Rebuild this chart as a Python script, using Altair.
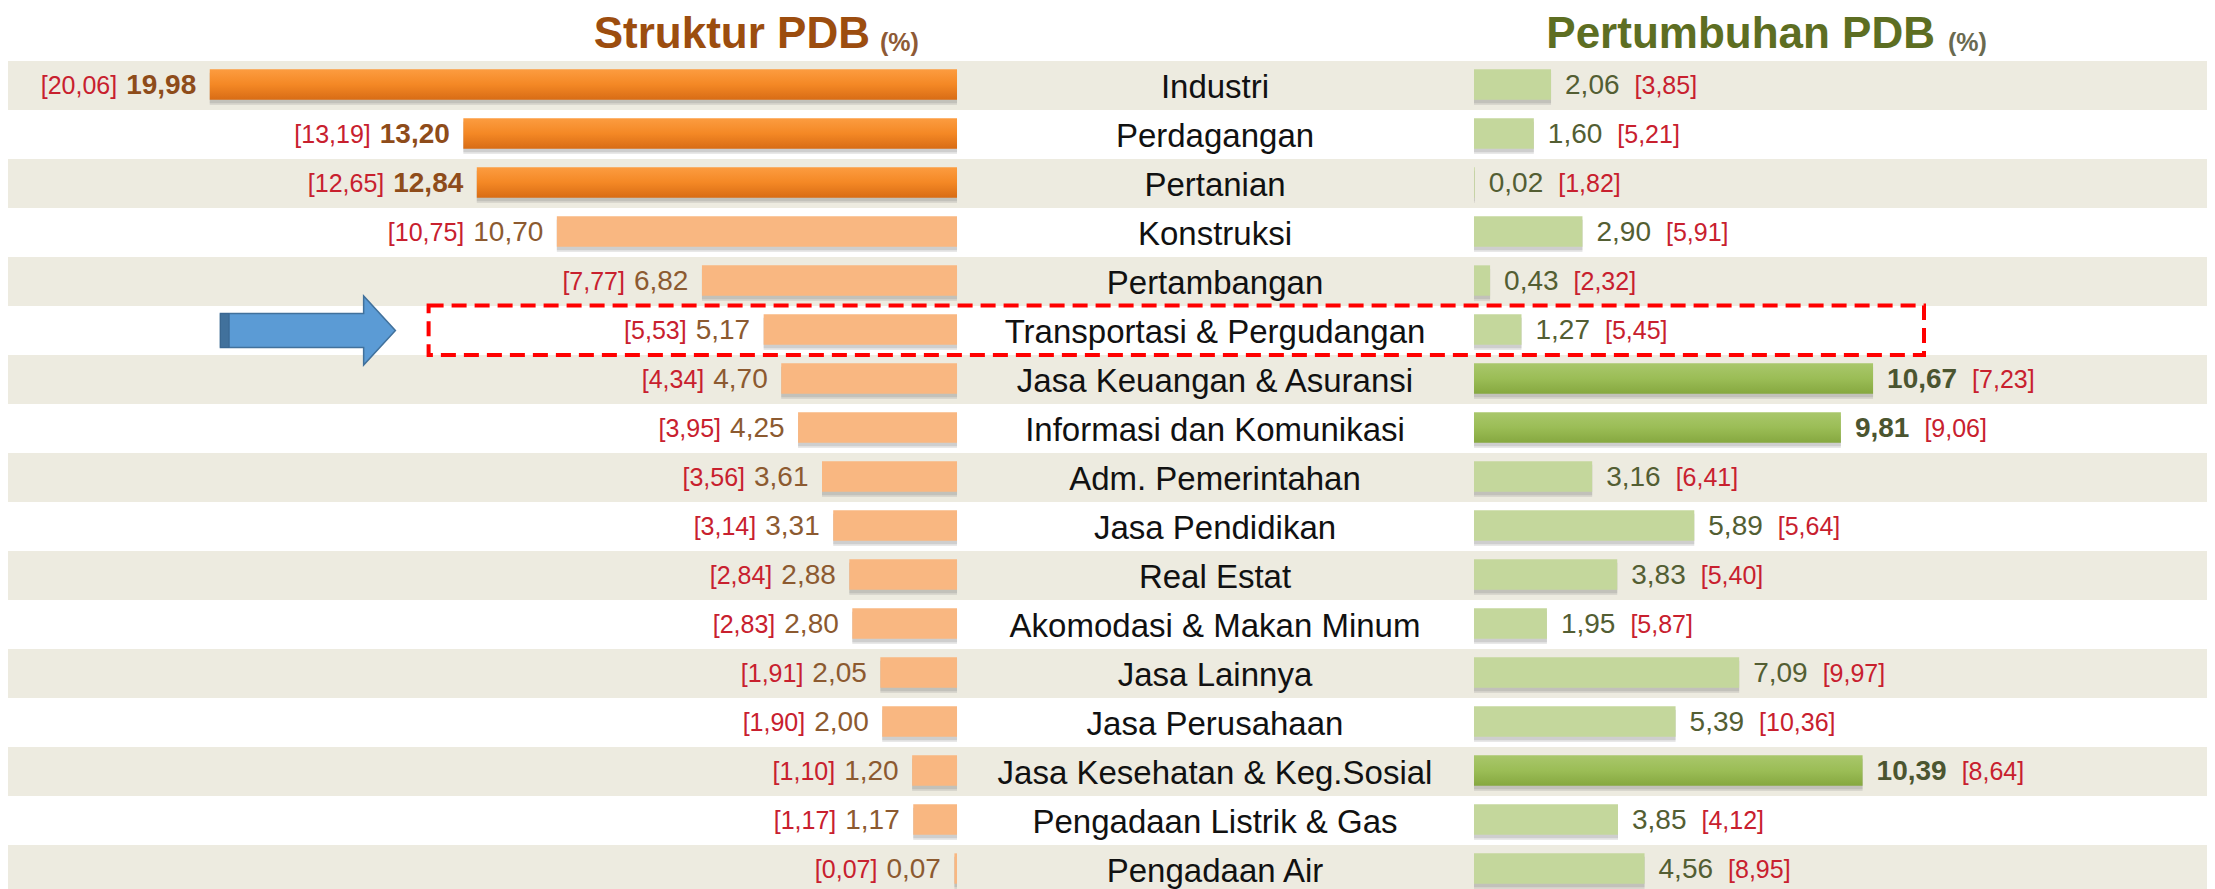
import altair as alt
import pandas as pd

# ---------------- data ----------------
sectors = [
    "Industri", "Perdagangan", "Pertanian", "Konstruksi", "Pertambangan",
    "Transportasi & Pergudangan", "Jasa Keuangan & Asuransi",
    "Informasi dan Komunikasi", "Adm. Pemerintahan", "Jasa Pendidikan",
    "Real Estat", "Akomodasi & Makan Minum", "Jasa Lainnya",
    "Jasa Perusahaan", "Jasa Kesehatan & Keg.Sosial",
    "Pengadaan Listrik & Gas", "Pengadaan Air",
]
struktur = [19.98, 13.20, 12.84, 10.70, 6.82, 5.17, 4.70, 4.25, 3.61, 3.31,
            2.88, 2.80, 2.05, 2.00, 1.20, 1.17, 0.07]
struktur_prev = [20.06, 13.19, 12.65, 10.75, 7.77, 5.53, 4.34, 3.95, 3.56, 3.14,
                 2.84, 2.83, 1.91, 1.90, 1.10, 1.17, 0.07]
growth = [2.06, 1.60, 0.02, 2.90, 0.43, 1.27, 10.67, 9.81, 3.16, 5.89,
          3.83, 1.95, 7.09, 5.39, 10.39, 3.85, 4.56]
growth_prev = [3.85, 5.21, 1.82, 5.91, 2.32, 5.45, 7.23, 9.06, 6.41, 5.64,
               5.40, 5.87, 9.97, 10.36, 8.64, 4.12, 8.95]

title_left = "Struktur PDB"
title_right = "Pertumbuhan PDB"
title_unit = "(%)"
highlight_sector = "Transportasi & Pergudangan"

# ---------------- table ----------------
def fmt(v):
    return f"{v:.2f}".replace(".", ",")

df = pd.DataFrame({
    "sector": sectors,
    "row": list(range(len(sectors))),
    "s": struktur, "sp": struktur_prev,
    "g": growth, "gp": growth_prev,
})
df["s_lbl"] = df["s"].map(fmt)
df["sp_lbl"] = "[" + df["sp"].map(fmt) + "]"
df["g_lbl"] = df["g"].map(fmt)
df["gp_lbl"] = "[" + df["gp"].map(fmt) + "]"
df["s_hi"] = (df["s"] >= sorted(struktur)[-3]).astype(int)
df["g_hi"] = (df["g"] >= sorted(growth)[-3]).astype(int)
df["band"] = (df["row"] % 2 == 0).astype(int)

# ---------------- layout ----------------
W, H = 2199, 881
PX = 37.4            # pixels per percentage point
CX = 1215            # page x of centre line
LA = -6.898          # left bar anchor (units)
RA = 6.925           # right bar anchor (units)
XD = [(8 - CX) / PX, (8 + W - CX) / PX]
YD = [(8 - 85.5) / 49.0, (8 + H - 85.5) / 49.0]
VAL_FS, BR_FS, LBL_FS = 28, 25, 33
DIG = 0.556 * VAL_FS / PX
COM = 0.278 * VAL_FS / PX
FONT = "Liberation Sans"

titles = pd.DataFrame({
    "text": [title_left, title_unit, title_right, title_unit],
    "tx": [(870 - CX) / PX, (880 - CX) / PX, (1935 - CX) / PX, (1948 - CX) / PX],
    "ty": [-0.765, -0.704, -0.765, -0.704],
    "part": ["lt", "lu", "rt", "ru"],
})

xs = alt.Scale(domain=XD, nice=False, zero=False)
ys = alt.Scale(domain=YD, nice=False, zero=False, reverse=True)


def X(f):
    return alt.X(f, type="quantitative", scale=xs, axis=None)


def X2(f):
    return alt.X2(f)


def Y(f):
    return alt.Y(f, type="quantitative", scale=ys, axis=None)


def vgrad(c0, c1, c2):
    return {"gradient": "linear", "x1": 0, "y1": 0, "x2": 0, "y2": 1,
            "stops": [{"offset": 0, "color": c0},
                      {"offset": 0.5, "color": c1},
                      {"offset": 1, "color": c2}]}


base = alt.Chart(df).transform_calculate(
    lx1=f"{LA} - datum.s",
    lx2=f"{LA}",
    rx1=f"{RA}",
    rx2=f"{RA} + datum.g",
    cx="0",
    by1="datum.row - 0.33",
    by2="datum.row + 0.29",
    sy1="datum.row - 0.26",
    sy2="datum.row + 0.36",
    sy3="datum.row + 0.40",
    bt="datum.row - 0.5",
    bb="datum.row + 0.5",
    bl=f"{XD[0]}",
    br=f"{XD[1]}",
    lv=f"{LA} - datum.s - {13.5 / PX}",
    lb=f"{LA} - datum.s - {13.5 / PX} - ((length(datum.s_lbl) - 1) * {DIG} + {COM}) - {9 / PX}",
    rv=f"{RA} + datum.g + {14 / PX}",
    rb=f"{RA} + datum.g + {14 / PX} + ((length(datum.g_lbl) - 1) * {DIG} + {COM}) + {15 / PX}",
)

bands = base.transform_filter("datum.band == 1").mark_rect(color="#EDEBE0", clip=True).encode(
    x=X("bl"), x2=X2("br"), y=Y("bt"), y2=alt.Y2("bb"))

# shadows
sh_l1 = base.mark_rect(color="#808080", opacity=0.18).encode(
    x=X("lx1"), x2=X2("lx2"), y=Y("sy1"), y2=alt.Y2("sy3"))
sh_l2 = base.mark_rect(color="#808080", opacity=0.25).encode(
    x=X("lx1"), x2=X2("lx2"), y=Y("sy1"), y2=alt.Y2("sy2"))
sh_r1 = base.mark_rect(color="#808080", opacity=0.18).encode(
    x=X("rx1"), x2=X2("rx2"), y=Y("sy1"), y2=alt.Y2("sy3"))
sh_r2 = base.mark_rect(color="#808080", opacity=0.25).encode(
    x=X("rx1"), x2=X2("rx2"), y=Y("sy1"), y2=alt.Y2("sy2"))

bars_l_hi = base.transform_filter("datum.s_hi == 1").mark_rect(
    color=vgrad("#FC9C40", "#F48825", "#D86C15")).encode(
    x=X("lx1"), x2=X2("lx2"), y=Y("by1"), y2=alt.Y2("by2"))
bars_l_lo = base.transform_filter("datum.s_hi == 0").mark_rect(color="#F9B781").encode(
    x=X("lx1"), x2=X2("lx2"), y=Y("by1"), y2=alt.Y2("by2"))
bars_r_hi = base.transform_filter("datum.g_hi == 1").mark_rect(
    color=vgrad("#A9C76B", "#9BBD56", "#86A840")).encode(
    x=X("rx1"), x2=X2("rx2"), y=Y("by1"), y2=alt.Y2("by2"))
bars_r_lo = base.transform_filter("datum.g_hi == 0").mark_rect(color="#C4D79C").encode(
    x=X("rx1"), x2=X2("rx2"), y=Y("by1"), y2=alt.Y2("by2"))

# labels
lv_hi = base.transform_filter("datum.s_hi == 1").mark_text(
    align="right", baseline="middle", font=FONT, fontSize=VAL_FS, fontWeight="bold",
    color="#8E4C1A").encode(x=X("lv"), y=Y("row"), text="s_lbl:N")
lv_lo = base.transform_filter("datum.s_hi == 0").mark_text(
    align="right", baseline="middle", font=FONT, fontSize=VAL_FS,
    color="#8C5A30").encode(x=X("lv"), y=Y("row"), text="s_lbl:N")
lb = base.mark_text(
    align="right", baseline="middle", font=FONT, fontSize=BR_FS,
    color="#C8202E").encode(x=X("lb"), y=Y("row"), text="sp_lbl:N")

rv_hi = base.transform_filter("datum.g_hi == 1").mark_text(
    align="left", baseline="middle", font=FONT, fontSize=VAL_FS, fontWeight="bold",
    color="#4B5530").encode(x=X("rv"), y=Y("row"), text="g_lbl:N")
rv_lo = base.transform_filter("datum.g_hi == 0").mark_text(
    align="left", baseline="middle", font=FONT, fontSize=VAL_FS,
    color="#535E33").encode(x=X("rv"), y=Y("row"), text="g_lbl:N")
rb = base.mark_text(
    align="left", baseline="middle", font=FONT, fontSize=BR_FS,
    color="#C8202E").encode(x=X("rb"), y=Y("row"), text="gp_lbl:N")

center = base.mark_text(
    align="center", baseline="middle", font=FONT, fontSize=LBL_FS, dy=2,
    color="#111111").encode(x=X("cx"), y=Y("row"), text="sector:N")

# titles
tb = alt.Chart(titles)
t_left = tb.transform_filter("datum.part == 'lt'").mark_text(
    align="right", baseline="alphabetic", font=FONT, fontSize=44, fontWeight="bold",
    color="#9C4D0F").encode(x=X("tx"), y=Y("ty"), text="text:N")
t_left_u = tb.transform_filter("datum.part == 'lu'").mark_text(
    align="left", baseline="alphabetic", font=FONT, fontSize=25, fontWeight="bold",
    color="#8E5A36").encode(x=X("tx"), y=Y("ty"), text="text:N")
t_right = tb.transform_filter("datum.part == 'rt'").mark_text(
    align="right", baseline="alphabetic", font=FONT, fontSize=44, fontWeight="bold",
    color="#5D6E22").encode(x=X("tx"), y=Y("ty"), text="text:N")
t_right_u = tb.transform_filter("datum.part == 'ru'").mark_text(
    align="left", baseline="alphabetic", font=FONT, fontSize=25, fontWeight="bold",
    color="#6A6A50").encode(x=X("tx"), y=Y("ty"), text="text:N")

# highlight box + arrow for the highlighted sector
hl = base.transform_filter(f"datum.sector == '{highlight_sector}'").transform_calculate(
    hx1=f"{(428.6 - CX) / PX}", hx2=f"{(1924 - CX) / PX}",
    hy1="datum.row - 0.51", hy2="datum.row + 0.5",
    ax=f"{(307.9 - CX) / PX}")
box = hl.mark_rect(fillOpacity=0, fill="white", stroke="#FF0000", strokeWidth=4,
                   strokeDash=[15, 8]).encode(
    x=X("hx1"), x2=X2("hx2"), y=Y("hy1"), y2=alt.Y2("hy2"))
arrow_path = ("M -1 -0.193 L 0.637 -0.193 L 0.637 -0.394 L 1 0 "
              "L 0.637 0.394 L 0.637 0.193 L -1 0.193 Z")
arrow = hl.mark_point(shape=arrow_path, filled=True, fill="#5B9BD5", stroke="#41719C",
                      strokeWidth=1.5, size=175 * 175, opacity=1).encode(
    x=X("ax"), y=Y("row"))
notch_path = "M -1 -0.193 L -0.9 -0.193 L -0.9 0.193 L -1 0.193 Z"
notch = hl.mark_point(shape=notch_path, filled=True, fill="#41719C", stroke="#3A6690",
                      strokeWidth=1, size=175 * 175, opacity=1).encode(
    x=X("ax"), y=Y("row"))

chart = alt.layer(
    bands, sh_l1, sh_l2, sh_r1, sh_r2,
    bars_l_hi, bars_l_lo, bars_r_hi, bars_r_lo,
    lv_hi, lv_lo, lb, rv_hi, rv_lo, rb, center,
    t_left, t_left_u, t_right, t_right_u,
    box, arrow, notch,
).properties(
    width=W, height=H, padding=0,
    autosize=alt.AutoSizeParams(type="none"),
    background="white",
).configure_view(stroke=None)

chart.save("out.html", embed_options={"renderer": "svg", "actions": False})
